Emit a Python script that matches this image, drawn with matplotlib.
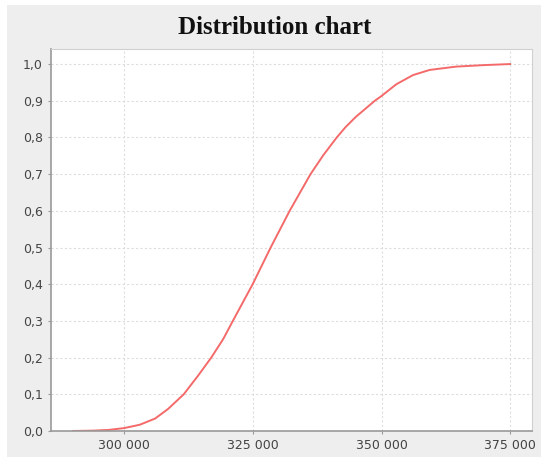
import matplotlib
matplotlib.use("Agg")
import matplotlib.pyplot as plt
from matplotlib.patches import Rectangle
from matplotlib.ticker import FuncFormatter

# Values (cumulative probability)
x_vals = [290000, 294000, 297000, 300000, 303000, 306000, 308500, 311550,
          314300, 316900, 319200, 321100, 324950, 328450, 332140, 336200,
          338700, 341300, 343000, 345000, 348700, 350000, 352880, 356130,
          359370, 364500, 369750, 375000]
p_vals = [0.000, 0.001, 0.003, 0.008, 0.017, 0.034, 0.060, 0.100,
          0.150, 0.200, 0.250, 0.300, 0.400, 0.500, 0.600, 0.700,
          0.752, 0.800, 0.828, 0.856, 0.900, 0.913, 0.945, 0.970,
          0.984, 0.993, 0.997, 1.000]

x_ticks = [300000, 325000, 350000, 375000]
y_ticks = [i / 10 for i in range(11)]

fig = plt.figure(figsize=(5.5, 4.65), dpi=100, facecolor="white")

# light gray chart panel behind everything
fig.patches.append(Rectangle((7 / 550, 8 / 465), 534 / 550, 452 / 465,
                             transform=fig.transFigure, facecolor="#eeeeee",
                             edgecolor="none", zorder=-10))

ax = fig.add_axes([51 / 550, 34 / 465, 481 / 550, 382 / 465])
ax.set_zorder(1)
ax.set_facecolor("white")
ax.plot(x_vals, p_vals, color="#f46a6a", lw=1.4)

ax.set_xlim(285750, 379250)
ax.set_ylim(0, 1.041)
ax.set_xticks(x_ticks)
ax.set_yticks(y_ticks)
ax.xaxis.set_major_formatter(FuncFormatter(lambda v, pos: f"{int(v):,}".replace(",", " ")))
ax.yaxis.set_major_formatter(FuncFormatter(lambda v, pos: f"{v:.1f}".replace(".", ",")))
ax.tick_params(labelsize=9, colors="#444444", length=2, width=0.8, pad=4)
ax.tick_params(axis="both", color="#999999")

ax.grid(True, color="#dddddd", linestyle=(0, (2, 2)), linewidth=0.8)
for side in ["top", "right"]:
    ax.spines[side].set_color("#d0d0d0")
for side in ["left", "bottom"]:
    ax.spines[side].set_color("#999999")
    ax.spines[side].set_linewidth(1.2)

fig.text(275 / 550, 1 - 27 / 465, "Distribution chart", ha="center", va="center",
         fontsize=18, fontweight="bold", family="Liberation Serif", color="#111111",
         zorder=2)

fig.savefig("out.png", dpi=100)
